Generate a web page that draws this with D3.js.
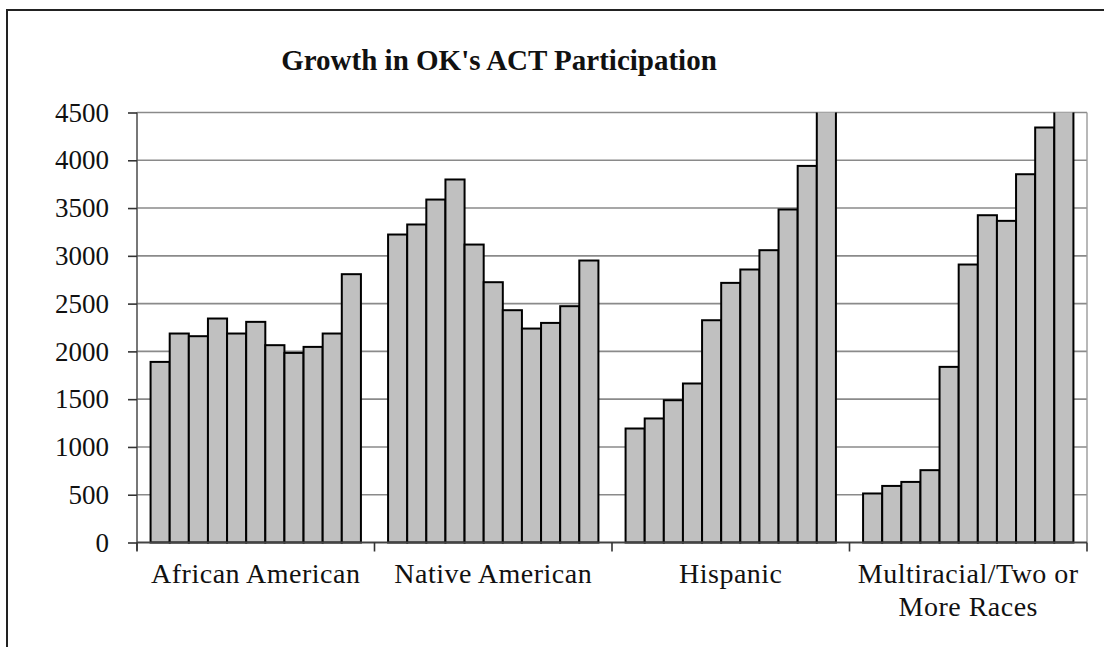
<!DOCTYPE html>
<html>
<head>
<meta charset="utf-8">
<script src="https://cdn.jsdelivr.net/npm/d3@7"></script>
<style>
  html, body { margin: 0; padding: 0; background: #fff; }
  svg { display: block; }
  text { font-family: "Liberation Serif", "Times New Roman", serif; fill: #111; }
</style>
</head>
<body>
<svg id="chart" width="1104" height="647"></svg>
<script>
// ---- data ----
const title = "Growth in OK's ACT Participation";
const categories = ["African American", "Native American", "Hispanic", "Multiracial/Two or More Races"];
const categoryLines = [["African American"], ["Native American"], ["Hispanic"], ["Multiracial/Two or", "More Races"]];
const africanAmerican = [1890, 2187, 2159, 2344, 2187, 2309, 2065, 1984, 2047, 2187, 2808];
const nativeAmerican  = [3223, 3328, 3589, 3799, 3118, 2724, 2431, 2239, 2298, 2473, 2951];
const hispanic        = [1193, 1298, 1489, 1664, 2326, 2717, 2857, 3059, 3485, 3941, 4650];
const multiracial     = [513, 592, 634, 757, 1838, 2909, 3425, 3366, 3854, 4343, 4800];
const seriesValues = [africanAmerican, nativeAmerican, hispanic, multiracial];
const yTicks = [0, 500, 1000, 1500, 2000, 2500, 3000, 3500, 4000, 4500];

// ---- layout ----
const svg = d3.select("#chart");
const mLeft = 137, mRight = 1087, mTop = 112.5, mBottom = 542.5;

svg.append("rect").attr("x", 7).attr("y", 10).attr("width", 1200).attr("height", 700)
  .attr("fill", "none").attr("stroke", "#222").attr("stroke-width", 2);

const x = d3.scaleBand().domain(categories).range([mLeft, mRight]).paddingInner(0).paddingOuter(0);
const barIdx = d3.range(11);
const xb = d3.scaleBand().domain(barIdx).range([0, x.bandwidth()]).paddingInner(0).paddingOuter(0.71);
const y = d3.scaleLinear().domain([0, 4500]).range([mBottom, mTop]);

// gridlines
svg.append("g").selectAll("line").data(yTicks.filter(d => d > 0)).join("line")
  .attr("x1", mLeft).attr("x2", mRight)
  .attr("y1", d => y(d)).attr("y2", d => y(d))
  .attr("stroke", "#8a8a8a").attr("stroke-width", 1.6);

// right border of plot area
svg.append("line").attr("x1", mRight).attr("x2", mRight).attr("y1", mTop).attr("y2", mBottom)
  .attr("stroke", "#9a9a9a").attr("stroke-width", 1.4);

// clip
svg.append("clipPath").attr("id", "plotclip").append("rect")
  .attr("x", mLeft - 5).attr("y", mTop).attr("width", mRight - mLeft + 10).attr("height", mBottom - mTop + 5);

// bars
const gBars = svg.append("g").attr("clip-path", "url(#plotclip)");
categories.forEach((c, ci) => {
  gBars.append("g").attr("transform", `translate(${x(c)},0)`)
    .selectAll("rect").data(seriesValues[ci]).join("rect")
    .attr("x", (d, i) => xb(i))
    .attr("width", xb.bandwidth())
    .attr("y", d => y(d))
    .attr("height", d => y(0) - y(d))
    .attr("fill", "#c0c0c0")
    .attr("stroke", "#000")
    .attr("stroke-width", 2);
});

// y axis
const yAxis = d3.axisLeft(y).tickValues(yTicks).tickSize(9).tickPadding(19).tickFormat(d3.format("d"));
const gy = svg.append("g").attr("transform", `translate(${mLeft},0)`).call(yAxis);
gy.select(".domain").attr("stroke", "#555").attr("stroke-width", 1.6);
gy.selectAll(".tick line").attr("stroke", "#333").attr("stroke-width", 1.6);
gy.selectAll(".tick text").attr("font-size", 27).attr("fill", "#111");
gy.select(".domain").attr("d", `M0,${mTop}V${mBottom + 8}`);

// x axis
const gx = svg.append("g").attr("transform", `translate(0,${mBottom})`);
gx.append("line").attr("x1", mLeft).attr("x2", mRight).attr("y1", 0).attr("y2", 0)
  .attr("stroke", "#444").attr("stroke-width", 1.8);
const boundaries = categories.map(c => x(c) + x.bandwidth());
gx.selectAll("line.tk").data([mLeft].concat(boundaries)).join("line").attr("class", "tk")
  .attr("x1", d => d).attr("x2", d => d).attr("y1", 0).attr("y2", 9)
  .attr("stroke", "#333").attr("stroke-width", 1.6);

const labels = svg.append("g");
categories.forEach((c, ci) => {
  const t = labels.append("text")
    .attr("x", x(c) + x.bandwidth() / 2).attr("y", 583)
    .attr("text-anchor", "middle").attr("font-size", 28)
    .attr("letter-spacing", 0.5);
  categoryLines[ci].forEach((ln, li) => {
    t.append("tspan").attr("x", x(c) + x.bandwidth() / 2).attr("dy", li === 0 ? 0 : 33).text(ln);
  });
});

// title
svg.append("text").attr("x", 499).attr("y", 70).attr("text-anchor", "middle")
  .attr("font-size", 29).attr("font-weight", "bold").text(title);
</script>
</body>
</html>
